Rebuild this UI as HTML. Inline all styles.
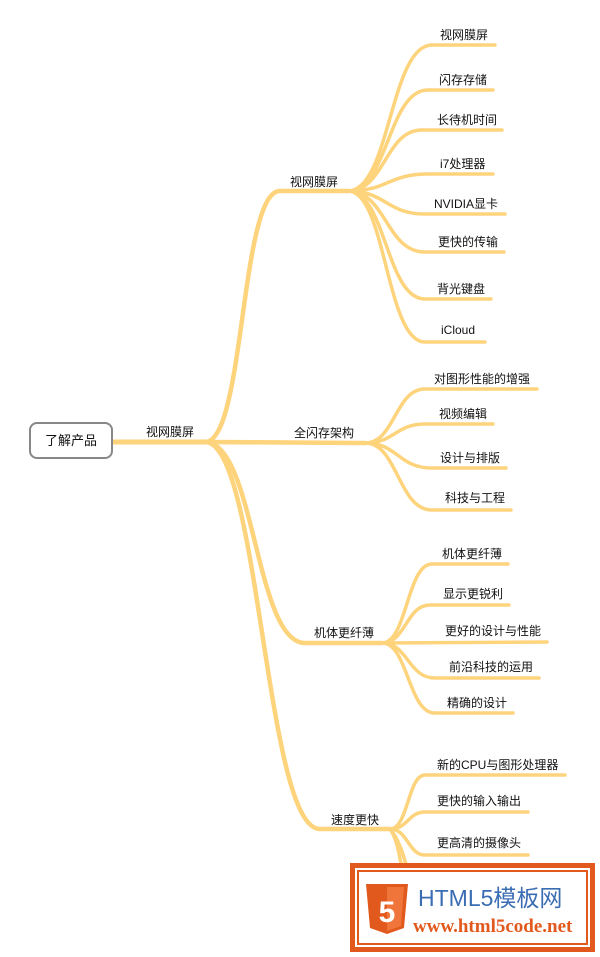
<!DOCTYPE html>
<html><head><meta charset="utf-8"><style>
body{margin:0;background:#fff;width:600px;height:957px;overflow:hidden;position:relative;font-family:"Liberation Sans","Noto Sans CJK SC",sans-serif;}
svg{position:absolute;left:0;top:0}
</style></head><body>
<svg width="600" height="957" viewBox="0 0 600 957" font-family="Liberation Sans, Noto Sans CJK SC, sans-serif" font-size="12" fill="#111">
<g fill="none" stroke="#fdd37c" stroke-linecap="round">
<!-- root -->
<path d="M112 442 L205 442" stroke-width="5"/>
<g stroke-width="4.5">
<path d="M205 442 C245 442 240 191 280 191 L348 191"/>
<path d="M205 442 L365 443"/>
<path d="M205 442 C255 442 255 643 305 643 L382 643"/>
<path d="M205 442 C260 442 265 829 320 829 L390 829"/>
</g>
<g stroke-width="3.5">
<path d="M348 191 C390 191 390 45 432 45 L495 45"/>
<path d="M348 191 C388 191 388 90 428 90 L493 90"/>
<path d="M348 191 C385 191 385 130 422 130 L502 130"/>
<path d="M348 191 C388 191 388 174 428 174 L493 174"/>
<path d="M348 191 C386 191 386 214 425 214 L505 214"/>
<path d="M348 191 C386 191 386 252 425 252 L504 252"/>
<path d="M348 191 C386 191 386 299 425 299 L491 299"/>
<path d="M348 191 C386 191 386 342 425 342 L485 342"/>
<path d="M365 443 C395 443 395 389 425 389 L537 389"/>
<path d="M365 443 C395 443 395 424 425 424 L493 424"/>
<path d="M365 443 C398 443 398 468 432 468 L506 468"/>
<path d="M365 443 C398 443 398 510 432 510 L511 510"/>
<path d="M382 643 C407 643 407 564 432 564 L508 564"/>
<path d="M382 643 C406 643 406 605 430 605 L509 605"/>
<path d="M382 643 L547 642"/>
<path d="M382 643 C408 643 408 678 435 678 L539 678"/>
<path d="M382 643 C408 643 408 713 435 713 L513 713"/>
<path d="M390 829 C408 829 408 775 425 775 L565 775"/>
<path d="M390 829 C408 829 408 812 425 812 L528 812"/>
<path d="M390 829 C408 829 408 855 425 855 L528 855"/>
<path d="M390 829 C400 840 405 860 410 880"/>
<path d="M390 829 C398 840 400 860 404 880"/>
</g>
</g>
<rect x="30" y="423" width="82" height="35" rx="7" fill="#fff" stroke="#888" stroke-width="2"/>
<text x="71" y="445" text-anchor="middle" font-size="13">了解产品</text>
<text x="146" y="436">视网膜屏</text>
<text x="290" y="186">视网膜屏</text>
<text x="294" y="437">全闪存架构</text>
<text x="314" y="637">机体更纤薄</text>
<text x="331" y="824">速度更快</text>
<text x="440" y="39">视网膜屏</text>
<text x="439" y="84">闪存存储</text>
<text x="437" y="124">长待机时间</text>
<text x="440" y="168">i7处理器</text>
<text x="434" y="208">NVIDIA显卡</text>
<text x="438" y="246">更快的传输</text>
<text x="437" y="293">背光键盘</text>
<text x="441" y="334">iCloud</text>
<text x="434" y="383">对图形性能的增强</text>
<text x="439" y="418">视频编辑</text>
<text x="440" y="462">设计与排版</text>
<text x="445" y="502">科技与工程</text>
<text x="442" y="558">机体更纤薄</text>
<text x="443" y="598">显示更锐利</text>
<text x="445" y="635">更好的设计与性能</text>
<text x="449" y="671">前沿科技的运用</text>
<text x="447" y="707">精确的设计</text>
<text x="437" y="769">新的CPU与图形处理器</text>
<text x="437" y="805">更快的输入输出</text>
<text x="437" y="847">更高清的摄像头</text>
<!-- watermark -->
<rect x="352.5" y="865.5" width="240" height="84" fill="#fff" stroke="#e2591e" stroke-width="5"/>
<rect x="358" y="871" width="229" height="73" fill="none" stroke="#e2591e" stroke-width="2"/>
<path d="M366 884 L408 884 L404 928 L387 934 L370 928 Z" fill="#e2591e"/>
<path d="M387 887 L404 887 L401 926 L387 931 Z" fill="#f0753a"/>
<text x="387" y="922" text-anchor="middle" font-size="30" font-weight="bold" fill="#fff">5</text>
<text x="418" y="906" font-size="23" fill="#3b6db3">HTML5模板网</text>
<text x="413" y="932" font-size="19" font-weight="bold" font-family="Liberation Serif, serif" fill="#e2591e">www.html5code.net</text>
</svg>
</body></html>
